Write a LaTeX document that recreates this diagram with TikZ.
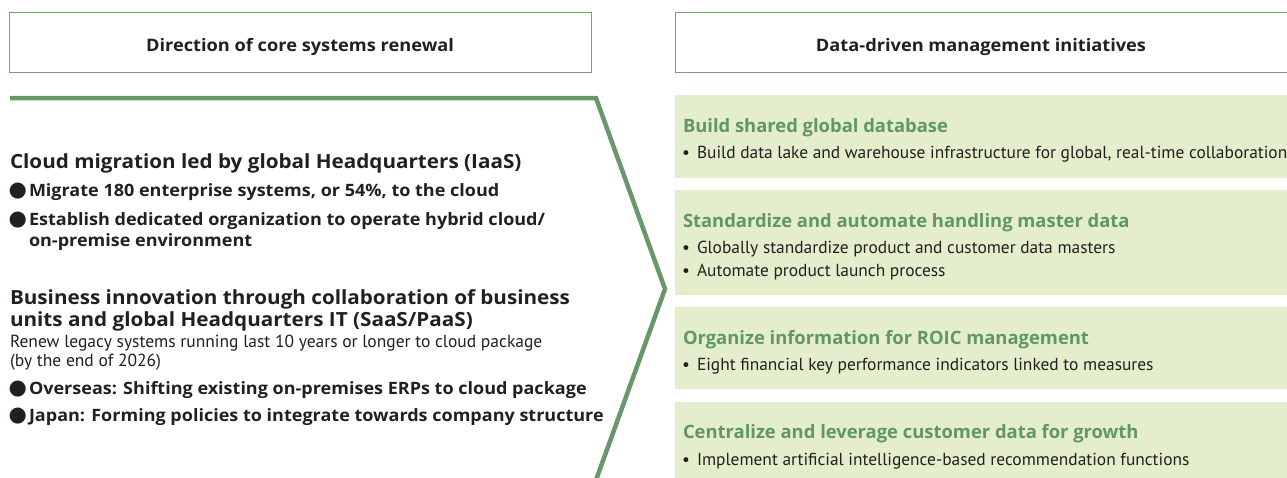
\documentclass[tikz,border=0pt]{standalone}
\usepackage{fontspec}
\setmainfont{PT Sans}
\newfontfamily\bfam[FakeStretch=1.06]{Open Sans}
\newfontfamily\bfamr{Open Sans}
\newfontfamily\djv{DejaVu Sans}
\definecolor{hdrline}{RGB}{120,160,115}
\definecolor{chev}{RGB}{104,151,108}
\definecolor{boxfill}{RGB}{228,237,204}
\definecolor{ttlgreen}{RGB}{96,150,104}
\definecolor{txt}{RGB}{35,31,32}
\newcommand{\bigbul}{\llap{{\djv\fontsize{21}{21}\selectfont ●}\hspace{2pt}}}
\newcommand{\smbul}{\llap{\textbullet\hspace{7pt}}}
\tikzset{
  hdrbox/.style={draw=hdrline, line width=1pt, fill=white, anchor=north west},
  greenbox/.style={fill=boxfill, anchor=north west},
  hdrtext/.style={anchor=base, text=txt, font=\bfam\fontsize{17.2}{17.2}\selectfont\bfseries},
  ltitle/.style={anchor=base west, text=txt, font=\bfam\fontsize{19.5}{19.5}\selectfont\bfseries},
  lbullet/.style={anchor=base west, text=txt, font=\bfam\fontsize{17}{17}\selectfont\bfseries},
  llight/.style={anchor=base west, text=txt, font=\fontsize{17.5}{17.5}\selectfont},
  rtitle/.style={anchor=base west, text=ttlgreen, font=\bfamr\fontsize{18.4}{18.4}\selectfont\bfseries},
  rbullet/.style={anchor=base west, text=txt, font=\fontsize{17.4}{17.4}\selectfont},
  chevline/.style={draw=chev, line width=4.5pt, line join=miter}
}
\begin{document}
\begin{tikzpicture}[x=1pt,y=-1pt, every node/.style={inner sep=0pt, outer sep=0pt}]
\useasboundingbox (0,0) rectangle (1287,477);
% header boxes
\node[hdrbox, minimum width=581.5pt, minimum height=60pt] (h1) at (9.5,12.5) {};
\node[hdrbox, minimum width=620pt, minimum height=60pt] (h2) at (675.5,12.5) {};
\node[hdrtext] (h1t) at (300,51) {Direction of core systems renewal};
\node[hdrtext] (h2t) at (981,51) {Data-driven management initiatives};
% chevron
\coordinate (c0) at (10,98);
\coordinate (c1) at (596,98);
\coordinate (c2) at (665,289);
\coordinate (c3) at (596,480);
\draw[chevline] (c0) -- (c1) -- (c2) -- (c3);
% left texts
\node[ltitle] (l1) at (10,168) {Cloud migration led by global Headquarters (IaaS)};
\node[lbullet] (l2) at (29,196) {\bigbul Migrate 180 enterprise systems, or 54\%, to the cloud};
\node[lbullet] (l3) at (29,225) {\bigbul Establish dedicated organization to operate hybrid cloud/};
\node[lbullet] (l4) at (29,246) {on-premise environment};
\node[ltitle] (l5) at (10,304) {Business innovation through collaboration of business};
\node[ltitle] (l6) at (10,326) {units and global Headquarters IT (SaaS/PaaS)};
\node[llight] (l7) at (10,347) {Renew legacy systems running last 10 years or longer to cloud package};
\node[llight] (l8) at (10,366) {(by the end of 2026)};
\node[lbullet] (l9) at (29,394) {\bigbul Overseas: Shifting existing on-premises ERPs to cloud package};
\node[lbullet] (l10) at (29,421) {\bigbul Japan: Forming policies to integrate towards company structure};
% right boxes
\node[greenbox, minimum width=620pt, minimum height=83pt] (b1) at (675,95) {};
\node[greenbox, minimum width=620pt, minimum height=105pt] (b2) at (675,190) {};
\node[greenbox, minimum width=620pt, minimum height=82pt] (b3) at (675,307) {};
\node[greenbox, minimum width=620pt, minimum height=80pt] (b4) at (675,402) {};
\node[rtitle] (r1) at (683,132) {Build shared global database};
\node[rbullet] (r2) at (697,158) {\smbul Build data lake and warehouse infrastructure for global, real-time collaboration};
\node[rtitle] (r3) at (683,227) {Standardize and automate handling master data};
\node[rbullet] (r4) at (697,253) {\smbul Globally standardize product and customer data masters};
\node[rbullet] (r5) at (697,276) {\smbul Automate product launch process};
\node[rtitle] (r6) at (683,344) {Organize information for ROIC management};
\node[rbullet] (r7) at (697,370) {\smbul Eight financial key performance indicators linked to measures};
\node[rtitle] (r8) at (683,438) {Centralize and leverage customer data for growth};
\node[rbullet] (r9) at (697,465) {\smbul Implement artificial intelligence-based recommendation functions};
\end{tikzpicture}
\end{document}
